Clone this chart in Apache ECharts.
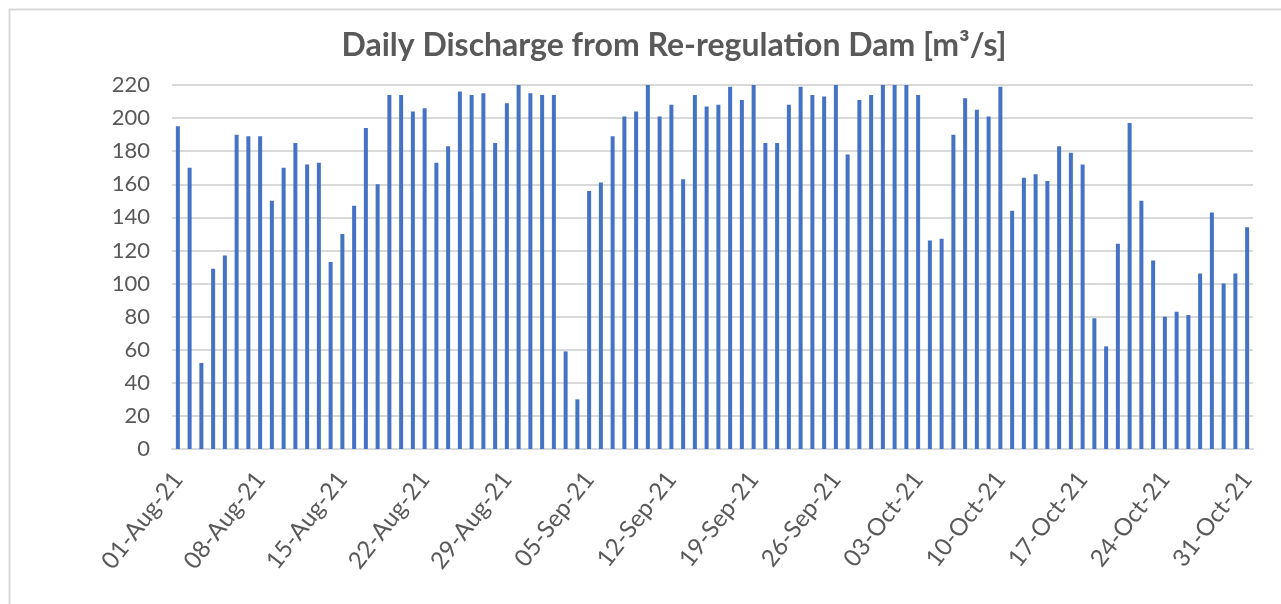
<!DOCTYPE html>
<html>
<head>
<meta charset="utf-8">
<script src="https://cdn.jsdelivr.net/npm/echarts@6/dist/echarts.min.js"></script>
<style>
html,body{margin:0;padding:0;background:#fff;}
#chart{width:1281px;height:604px;}
</style>
</head>
<body>
<div id="chart"></div>
<script>
// Categories: daily dates 01-Aug-21 .. 31-Oct-21
const months = [["Aug", 31], ["Sep", 30], ["Oct", 31]];
const categories = [];
months.forEach(function (m) {
  for (let d = 1; d <= m[1]; d++) {
    categories.push((d < 10 ? "0" + d : "" + d) + "-" + m[0] + "-21");
  }
});

// Daily discharge values [m3/s]
const discharge = [
  195, 170, 52, 109, 117, 190, 189, 189, 150, 170,
  185, 172, 173, 113, 130, 147, 194, 160, 214, 214,
  204, 206, 173, 183, 216, 214, 215, 185, 209, 220,
  215, 214, 214, 59, 30, 156, 161, 189, 201, 204,
  220, 201, 208, 163, 214, 207, 208, 219, 211, 220,
  185, 185, 208, 219, 214, 213, 220, 178, 211, 214,
  220, 220, 220, 214, 126, 127, 190, 212, 205, 201,
  219, 144, 164, 166, 162, 183, 179, 172, 79, 62,
  124, 197, 150, 114, 80, 83, 81, 106, 143, 100,
  106, 134
];

const yTicks = { min: 0, max: 220, interval: 20 };
const titleText = "Daily Discharge from Re-regulation Dam [m\u00B3/s]";

const chart = echarts.init(document.getElementById("chart"), null, { renderer: "canvas" });
chart.setOption({
  backgroundColor: "#ffffff",
  animation: false,
  title: {
    text: titleText,
    left: 669,
    textAlign: "center",
    top: 25,
    textStyle: { fontFamily: "Lato", fontSize: 32, fontWeight: "bold", color: "#595959" }
  },
  graphic: [{
    type: "rect",
    left: 7, top: 7,
    shape: { x: 0, y: 0, width: 1300, height: 620 },
    style: { fill: "none", stroke: "#d9d9d9", lineWidth: 2 },
    silent: true
  }],
  grid: { left: 172, right: 28, top: 85, bottom: 155, containLabel: false },
  xAxis: {
    type: "category",
    data: categories,
    boundaryGap: true,
    axisLine: { show: true, lineStyle: { color: "#d9d9d9", width: 2 } },
    axisTick: { show: false },
    axisLabel: {
      interval: 6,
      rotate: 52,
      margin: 26,
      fontFamily: "Lato",
      fontSize: 24,
      color: "#595959"
    },
    splitLine: { show: false }
  },
  yAxis: {
    type: "value",
    min: yTicks.min,
    max: yTicks.max,
    interval: yTicks.interval,
    axisLine: { show: false },
    axisTick: { show: false },
    axisLabel: { margin: 22, fontFamily: "Lato", fontSize: 22, color: "#595959" },
    splitLine: { lineStyle: { color: "#d9d9d9", width: 2 } }
  },
  series: [{
    type: "bar",
    data: discharge,
    barWidth: 4,
    itemStyle: { color: "#4472C4" }
  }]
});
</script>
</body>
</html>
